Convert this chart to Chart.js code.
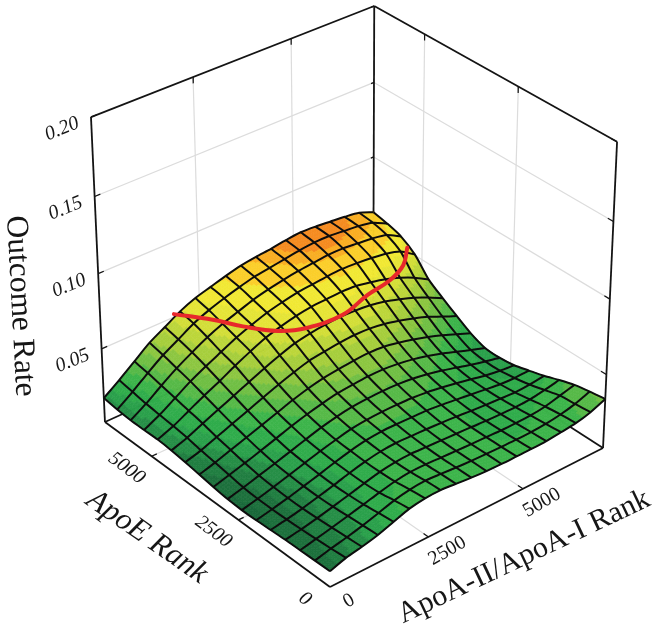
<!DOCTYPE html>
<html>
<head>
<meta charset="utf-8">
<title>Outcome Rate surface</title>
<script src="https://cdn.jsdelivr.net/npm/chart.js@4"></script>
<style>
	html, body { margin: 0; padding: 0; background: #fff; }
	canvas { display: block; }
</style>
</head>
<body>
<canvas id="myChart" width="658" height="632"></canvas>
<script>
// grid of the fitted surface, rows follow apoe_ranks, columns follow apoa_ranks
const apoe_ranks = [0, 400, 800, 1200, 1600, 2000, 2400, 2800, 3200, 3600, 4000, 4400, 4800, 5200, 5600, 6000, 6400];
const apoa_ranks = [0, 400, 800, 1200, 1600, 2000, 2400, 2800, 3200, 3600, 4000, 4400, 4800, 5200, 5600, 6000, 6400, 6800, 7200];
const outcome_rates = [
	[.0105, .0140, .0160, .0185, .0220, .0255, .0272, .0275, .0265, .0255, .0248, .0245, .0245, .0245, .0248, .0258, .0270, .0295, .0335],
	[.0103, .0130, .0152, .0178, .0208, .0240, .0260, .0268, .0262, .0254, .0248, .0244, .0242, .0240, .0242, .0248, .0262, .0285, .0320],
	[.0100, .0122, .0145, .0170, .0195, .0222, .0245, .0258, .0258, .0252, .0247, .0243, .0240, .0235, .0235, .0238, .0250, .0275, .0300],
	[.0098, .0115, .0137, .0162, .0188, .0215, .0240, .0255, .0260, .0255, .0250, .0245, .0240, .0233, .0230, .0228, .0232, .0248, .0268],
	[.0092, .0110, .0132, .0158, .0185, .0215, .0240, .0258, .0265, .0262, .0258, .0252, .0245, .0235, .0227, .0220, .0215, .0220, .0232],
	[.0086, .0108, .0132, .0160, .0188, .0218, .0245, .0265, .0275, .0275, .0272, .0268, .0258, .0245, .0232, .0218, .0205, .0200, .0203],
	[.0084, .0108, .0136, .0166, .0196, .0226, .0252, .0275, .0287, .0292, .0292, .0288, .0278, .0262, .0243, .0222, .0200, .0185, .0175],
	[.0088, .0115, .0145, .0175, .0206, .0238, .0268, .0292, .0308, .0315, .0318, .0315, .0305, .0288, .0265, .0238, .0210, .0185, .0163],
	[.0100, .0130, .0160, .0192, .0226, .0260, .0290, .0315, .0335, .0345, .0352, .0352, .0342, .0325, .0300, .0270, .0235, .0200, .0167],
	[.0115, .0145, .0180, .0215, .0250, .0285, .0320, .0350, .0372, .0385, .0395, .0400, .0395, .0375, .0350, .0320, .0285, .0245, .0205],
	[.0130, .0160, .0200, .0240, .0280, .0320, .0360, .0395, .0425, .0440, .0452, .0458, .0455, .0440, .0415, .0385, .0350, .0305, .0263],
	[.0142, .0178, .0225, .0270, .0315, .0360, .0405, .0445, .0480, .0500, .0512, .0518, .0515, .0505, .0485, .0455, .0420, .0375, .0325],
	[.0148, .0190, .0245, .0300, .0350, .0405, .0455, .0500, .0530, .0555, .0570, .0575, .0580, .0575, .0555, .0530, .0495, .0450, .0392],
	[.0146, .0200, .0265, .0330, .0385, .0435, .0485, .0525, .0560, .0585, .0605, .0615, .0625, .0630, .0625, .0615, .0600, .0570, .0505],
	[.0145, .0210, .0285, .0355, .0415, .0470, .0515, .0550, .0585, .0610, .0630, .0645, .0655, .0665, .0665, .0655, .0645, .0625, .0570],
	[.0152, .0225, .0305, .0380, .0440, .0500, .0545, .0580, .0610, .0635, .0650, .0665, .0680, .0690, .0690, .0680, .0670, .0650, .0600],
	[.0165, .0240, .0320, .0400, .0460, .0520, .0565, .0595, .0625, .0650, .0665, .0675, .0690, .0700, .0695, .0685, .0675, .0660, .0620],
];

// red curve lying on the surface
const curve_apoe = [6400, 5800, 5280, 4760, 4500, 4420, 4640, 4760, 5000, 5420];
const curve_apoa = [1840, 2320, 2640, 3080, 3600, 4480, 5360, 6080, 6680, 7200];
const curve_rate = [.052, .052, .052, .052, .052, .052, .052, .052, .052, .052];

const rate_ticks = [0.05, 0.10, 0.15, 0.20];
const rank_ticks = [2500, 5000];
const apoe_tick_labels = ['0', '2500', '5000'];
const apoa_tick_labels = ['0', '2500', '5000'];

const band_limits = [.0095, .012, .0145, .017, .02, .024, .028, .032, .036, .040, .044, .048, .052, .056, .0615, .0655, .0675];
const band_colors = ['#19683a', '#1c703c', '#207e41', '#258e46', '#2aa04b', '#2fac4b', '#3cb44a', '#56b947', '#70bf44', '#8cc640', '#a6ce3c', '#bcd63a', '#d3de38', '#e5e436', '#f1e833', '#fbce2a', '#f9ae22', '#f58b20'];

const max_apoe = 6400;
const max_apoa = 7200;
const max_rate = 0.2;

// camera of the 3d box, homogeneous columns for origin, apoe, apoa and rate
function project(apoe, apoa, rate) {
	const u = apoe / max_apoe, v = apoa / max_apoa, z = rate / max_rate;
	const w = 1 + 0.069 * u + 0.06 * v - 0.0567 * z;
	return {
		x: (330 - 217.8 * u + 309.2 * v - 20.1 * z) / w,
		y: (587 - 135.9 * u - 112.1 * v - 332.6 * z) / w,
	};
}

function lineSet(points, color, width, order, extra) {
	return Object.assign({
		data: points,
		showLine: true,
		borderColor: color,
		borderWidth: width,
		pointRadius: 0,
		fill: false,
		order: order,
	}, extra || {});
}

const datasets = [];
const wall_color = '#dcdcdc';
const box_color = '#141414';

// walls
rate_ticks.slice(0, 3).forEach(function (r) {
	datasets.push(lineSet([project(max_apoe, 0, r), project(max_apoe, max_apoa, r)], wall_color, 1.2, 4));
	datasets.push(lineSet([project(max_apoe, max_apoa, r), project(0, max_apoa, r)], wall_color, 1.2, 4));
});
rank_ticks.forEach(function (t) {
	datasets.push(lineSet([project(max_apoe, t, 0), project(max_apoe, t, max_rate)], wall_color, 1.2, 4));
	datasets.push(lineSet([project(t, max_apoa, 0), project(t, max_apoa, max_rate)], wall_color, 1.2, 4));
	datasets.push(lineSet([project(t, 0, 0), project(t, max_apoa, 0)], wall_color, 1.2, 4));
	datasets.push(lineSet([project(0, t, 0), project(max_apoe, t, 0)], wall_color, 1.2, 4));
});

// box outline
const box_edges = [
	[[max_apoe, 0, max_rate], [max_apoe, max_apoa, max_rate]],
	[[max_apoe, max_apoa, max_rate], [0, max_apoa, max_rate]],
	[[max_apoe, 0, max_rate], [max_apoe, 0, 0]],
	[[0, max_apoa, max_rate], [0, max_apoa, 0]],
	[[max_apoe, max_apoa, max_rate], [max_apoe, max_apoa, 0]],
	[[max_apoe, 0, 0], [max_apoe, max_apoa, 0]],
	[[0, max_apoa, 0], [max_apoe, max_apoa, 0]],
	[[max_apoe, 0, 0], [0, 0, 0]],
	[[0, 0, 0], [0, max_apoa, 0]],
];
box_edges.forEach(function (e) {
	datasets.push(lineSet([project(e[0][0], e[0][1], e[0][2]), project(e[1][0], e[1][1], e[1][2])], box_color, 1.8, 3));
});

// tick marks
rate_ticks.forEach(function (r) {
	datasets.push(lineSet([project(max_apoe, 0, r), project(max_apoe, 140, r)], box_color, 1.2, 3));
	datasets.push(lineSet([project(0, max_apoa, r), project(140, max_apoa, r)], box_color, 1.2, 3));
	datasets.push(lineSet([project(max_apoe, max_apoa, r), project(max_apoe, max_apoa - 80, r)], box_color, 1.2, 3));
});
rank_ticks.forEach(function (t) {
	datasets.push(lineSet([project(max_apoe, t, max_rate), project(max_apoe, t, max_rate - 0.004)], box_color, 1.2, 3));
	datasets.push(lineSet([project(t, max_apoa, max_rate), project(t, max_apoa, max_rate - 0.004)], box_color, 1.2, 3));
	datasets.push(lineSet([project(t, 0, 0), project(t, 130, 0)], box_color, 1.2, 3));
	datasets.push(lineSet([project(0, t, 0), project(130, t, 0)], box_color, 1.2, 3));
});

// mesh lines of the surface
apoe_ranks.forEach(function (e, i) {
	datasets.push(lineSet(apoa_ranks.map(function (a, j) { return project(e, a, outcome_rates[i][j]); }), '#0d0d0d', 2, 2, { mesh: true, tension: 0.25 }));
});
apoa_ranks.forEach(function (a, j) {
	datasets.push(lineSet(apoe_ranks.map(function (e, i) { return project(e, a, outcome_rates[i][j]); }), '#0d0d0d', 2, 2, { mesh: true, tension: 0.25 }));
});

// red curve
datasets.push(lineSet(curve_apoe.map(function (e, i) { return project(e, curve_apoa[i], curve_rate[i]); }), '#e8282b', 4, 1, { tension: 0.4, borderCapStyle: 'round' }));

function bandColor(rate) {
	let k = 0;
	while (k < band_limits.length && rate > band_limits[k]) k++;
	return band_colors[k];
}

// filled surface goes in just before the first mesh line, so it covers the walls
let surface_done = false;
const surfacePlugin = {
	id: 'surfacePlugin',
	beforeDraw: function () { surface_done = false; },
	beforeDatasetDraw: function (chart, args) {
		if (surface_done || !chart.data.datasets[args.index].mesh) return;
		surface_done = true;
		const ctx = chart.ctx, sx = chart.scales.x, sy = chart.scales.y;
		const steps = 6;
		const corner = function (i, j, s, t) {
			const a = outcome_rates[i][j], b = outcome_rates[i][j + 1], c = outcome_rates[i + 1][j], d = outcome_rates[i + 1][j + 1];
			const f = s / steps, g = t / steps;
			const rate = (a * (1 - g) + b * g) * (1 - f) + (c * (1 - g) + d * g) * f;
			const p = project(apoe_ranks[i] + 400 * f, apoa_ranks[j] + 400 * g, rate);
			return { x: sx.getPixelForValue(p.x), y: sy.getPixelForValue(p.y), rate: rate };
		};
		ctx.save();
		ctx.lineWidth = 0.7;
		ctx.lineJoin = 'round';
		for (let i = apoe_ranks.length - 2; i >= 0; i--) {
			for (let j = apoa_ranks.length - 2; j >= 0; j--) {
				for (let s = steps - 1; s >= 0; s--) {
					for (let t = steps - 1; t >= 0; t--) {
						const p1 = corner(i, j, s, t), p2 = corner(i, j, s, t + 1), p3 = corner(i, j, s + 1, t + 1), p4 = corner(i, j, s + 1, t);
						const col = bandColor((p1.rate + p2.rate + p3.rate + p4.rate) / 4);
						ctx.fillStyle = col;
						ctx.strokeStyle = col;
						ctx.beginPath();
						ctx.moveTo(p1.x, p1.y);
						ctx.lineTo(p2.x, p2.y);
						ctx.lineTo(p3.x, p3.y);
						ctx.lineTo(p4.x, p4.y);
						ctx.closePath();
						ctx.fill();
						ctx.stroke();
					}
				}
			}
		}
		ctx.restore();
	},
};

function putText(ctx, chart, text, px, py, angle, font) {
	ctx.save();
	ctx.translate(chart.scales.x.getPixelForValue(px), chart.scales.y.getPixelForValue(py));
	ctx.rotate(angle * Math.PI / 180);
	ctx.font = font;
	ctx.fillStyle = '#161616';
	ctx.textAlign = 'center';
	ctx.textBaseline = 'middle';
	ctx.fillText(text, 0, 0);
	ctx.restore();
}

const textPlugin = {
	id: 'textPlugin',
	afterDatasetsDraw: function (chart) {
		const ctx = chart.ctx;
		const italic = 'italic 20px "Liberation Serif"';
		const roman = '20px "Liberation Serif"';
		rate_ticks.forEach(function (r) {
			const p = project(max_apoe, 0, r);
			putText(ctx, chart, r.toFixed(2), p.x - 29, p.y + 12, -22, italic);
		});
		[0, 2500, 5000].forEach(function (t, i) {
			const p = project(t, 0, 0);
			putText(ctx, chart, apoe_tick_labels[i], p.x - 25, p.y + 12, 37, italic);
			const q = project(0, t, 0);
			putText(ctx, chart, apoa_tick_labels[i], q.x + 19, q.y + 14, -30, roman);
		});
		putText(ctx, chart, 'Outcome Rate', 20, 306, 87, '31.5px "Liberation Serif"');
		putText(ctx, chart, 'ApoE Rank', 147, 537, 35, 'italic 31px "Liberation Serif"');
		putText(ctx, chart, 'ApoA-II/ApoA-I Rank', 524, 557, -25.5, '30px "Liberation Serif"');
	},
};

const myChart = new Chart(document.getElementById('myChart'), {
	type: 'scatter',
	data: { datasets: datasets },
	options: {
		responsive: false,
		animation: false,
		layout: { padding: 0 },
		plugins: { legend: { display: false }, tooltip: { enabled: false } },
		scales: {
			x: { type: 'linear', display: false, min: 0, max: 658 },
			y: { type: 'linear', display: false, min: 0, max: 632, reverse: true },
		},
	},
	plugins: [surfacePlugin, textPlugin],
});
</script>
</body>
</html>
